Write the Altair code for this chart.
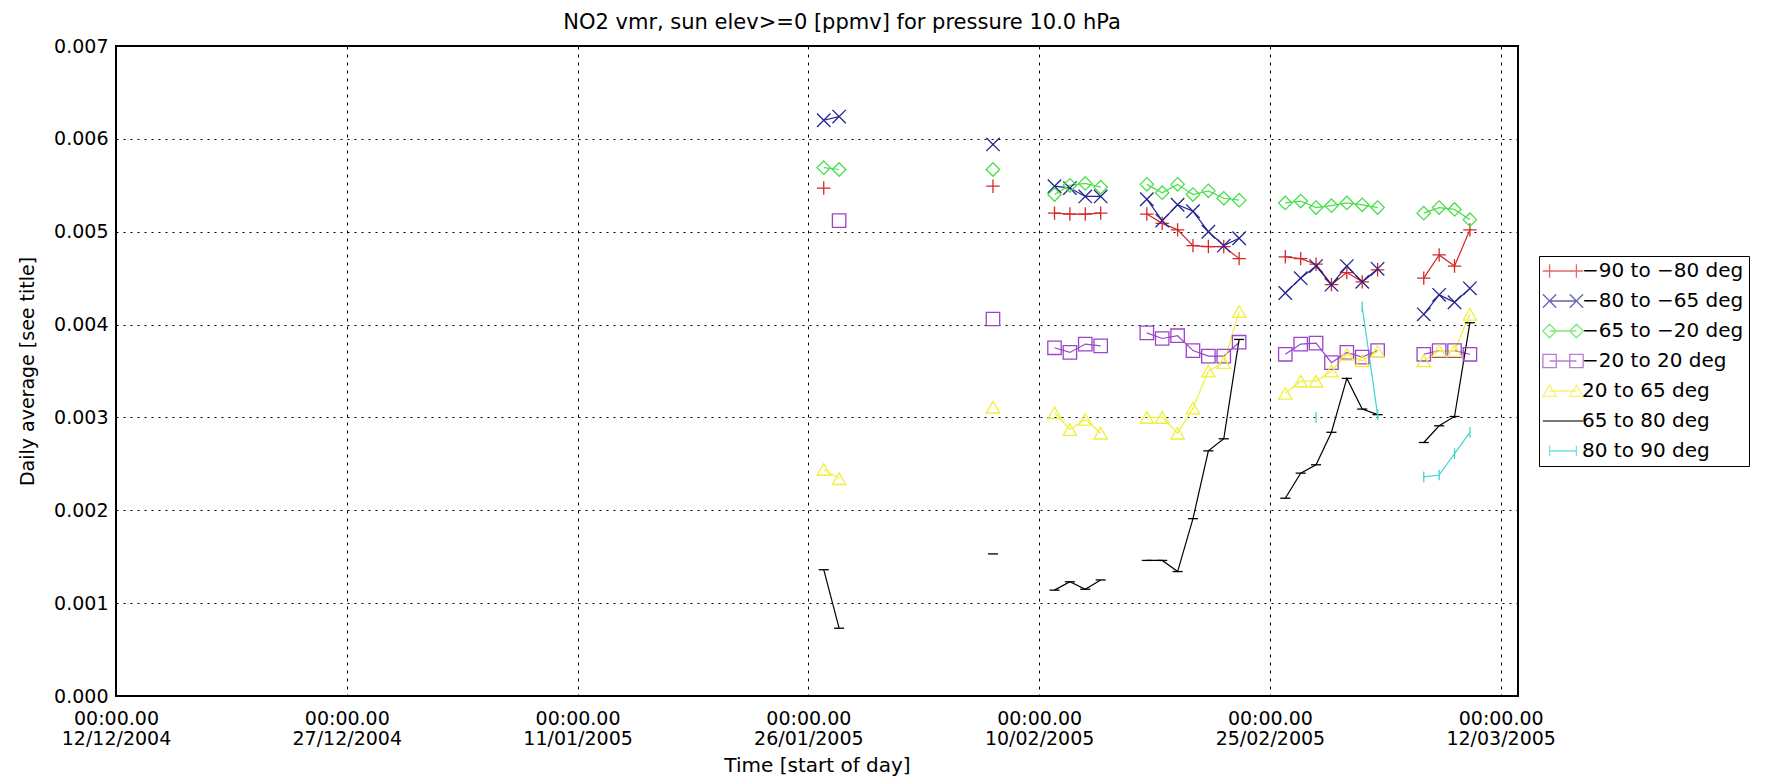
import altair as alt
import pandas as pd

# ---- data ----
dates = [
    "2005-01-27", "2005-01-28",
    "2005-02-07",
    "2005-02-11", "2005-02-12", "2005-02-13", "2005-02-14",
    "2005-02-17", "2005-02-18", "2005-02-19", "2005-02-20", "2005-02-21", "2005-02-22", "2005-02-23",
    "2005-02-26", "2005-02-27", "2005-02-28", "2005-03-01", "2005-03-02", "2005-03-03", "2005-03-04",
    "2005-03-07", "2005-03-08", "2005-03-09", "2005-03-10",
]

series = ["−90 to −80 deg", "−80 to −65 deg", "−65 to −20 deg", "−20 to 20 deg",
          "20 to 65 deg", "65 to 80 deg", "80 to 90 deg"]

s_m90_m80 = [0.00547, None, 0.00549, 0.00520, 0.00519, 0.00519, 0.00520,
             0.00519, 0.00509, 0.00502, 0.00485, 0.00484, 0.00484, 0.00471,
             0.00473, 0.00471, 0.00465, 0.00443, 0.00456, 0.00446, 0.00459,
             0.00450, 0.00475, 0.00463, 0.00502]
s_m80_m65 = [0.00620, 0.00624, 0.00594, 0.00549, 0.00547, 0.00538, 0.00538,
             0.00535, 0.00512, 0.00529, 0.00522, 0.00500, 0.00485, 0.00493,
             0.00434, 0.00450, 0.00463, 0.00443, 0.00463, 0.00446, 0.00460,
             0.00411, 0.00432, 0.00424, 0.00439]
s_m65_m20 = [0.00569, 0.00567, 0.00567, 0.00540, 0.00550, 0.00552, 0.00548,
             0.00551, 0.00542, 0.00551, 0.00540, 0.00544, 0.00536, 0.00534,
             0.00531, 0.00533, 0.00526, 0.00528, 0.00531, 0.00529, 0.00526,
             0.00520, 0.00526, 0.00524, 0.00513]
s_m20_20 = [None, 0.00512, 0.00406, 0.00375, 0.00370, 0.00379, 0.00377,
            0.00391, 0.00385, 0.00388, 0.00372, 0.00366, 0.00366, 0.00381,
            0.00368, 0.00379, 0.00380, 0.00359, 0.00370, 0.00365, 0.00372,
            0.00368, 0.00372, 0.00372, 0.00368]
s_20_65 = [0.00244, 0.00234, 0.00311, 0.00305, 0.00287, 0.00298, 0.00283,
           0.00300, 0.00300, 0.00283, 0.00310, 0.00350, 0.00359, 0.00414,
           0.00326, 0.00339, 0.00339, 0.00350, 0.00368, 0.00361, 0.00371,
           0.00361, 0.00372, 0.00372, 0.00411]
s_65_80 = [0.00136, 0.00073, 0.00153, 0.00114, 0.00123, 0.00115, 0.00125,
           0.00146, 0.00146, 0.00134, 0.00191, 0.00264, 0.00277, 0.00384,
           0.00213, 0.00240, 0.00249, 0.00284, 0.00342, 0.00309, 0.00303,
           0.00273, 0.00291, 0.00301, 0.00402]
s_80_90 = [None, None, None, None, None, None, None,
           None, None, None, None, None, None, None,
           None, None, 0.00300, None, None, 0.00419, 0.00303,
           0.00236, 0.00238, 0.00261, 0.00284]

values = [s_m90_m80, s_m80_m65, s_m65_m20, s_m20_20, s_20_65, s_65_80, s_80_90]

colors = ["#d42828", "#24248f", "#4ade4a", "#9a44c8", "#f0f03a", "#000000", "#3ed4d4"]
shapes = [
    "M-1,0L1,0M0,-1L0,1",            # plus
    "M-1,-1L1,1M-1,1L1,-1",          # X
    "diamond",
    "square",
    "triangle-up",
    "M-0.75,0L0.75,0",               # horizontal tick
    "M0,-0.8L0,0.8",                 # vertical tick
]
# legend glyphs: a short line with the series' marker at each end
legend_shapes = [
    "M-3,0L3,0M-2,-1L-2,1M2,-1L2,1",
    "M-2,0L2,0M-3,-1L-1,1M-3,1L-1,-1M1,-1L3,1M1,1L3,-1",
    "M-2,0L2,0M-3,0L-2,-1L-1,0L-2,1ZM1,0L2,-1L3,0L2,1Z",
    "M-2,0L2,0M-3,-1L-1,-1L-1,1L-3,1ZM1,-1L3,-1L3,1L1,1Z",
    "M-2,0L2,0M-3,0.8L-2,-0.9L-1,0.8ZM1,0.8L2,-0.9L3,0.8Z",
    "M-3,0L3,0",
    "M-2,0L2,0M-2,-0.8L-2,0.8M2,-0.8L2,0.8",
]

ticks_x = [(2004, 12, 12), (2004, 12, 27), (2005, 1, 11), (2005, 1, 26),
           (2005, 2, 10), (2005, 2, 25), (2005, 3, 12)]
ticks_y = [0.000, 0.001, 0.002, 0.003, 0.004, 0.005, 0.006, 0.007]

# ---- long table, lines broken where days are missing ----
rows = []
for name, vals in zip(series, values):
    seg = 0
    prev = None
    for d, v in zip(dates, vals):
        if v is None:
            prev = None
            continue
        day = pd.Timestamp(d)
        if prev is None or (day - prev).days > 1:
            seg += 1
        rows.append({"date": d, "value": v, "series": name, "seg": f"{name}|{seg}"})
        prev = day
df = pd.DataFrame(rows)

FONT = "DejaVu Sans"

x_enc = alt.X(
    "date:T",
    title="Time [start of day]",
    scale=alt.Scale(
        type="utc", nice=False,
        domain=[alt.DateTime(year=2004, month=12, date=12, utc=True),
                alt.DateTime(year=2005, month=3, date=13, hours=3, utc=True)],
    ),
    axis=alt.Axis(
        values=[alt.DateTime(year=a, month=b, date=c, utc=True) for a, b, c in ticks_x],
        labelExpr="['00:00.00', utcFormat(datum.value, '%d/%m/%Y')]",
        labelLineHeight=20, labelPadding=13, titlePadding=7,
        labelOverlap=False, labelFlush=False,
        titleFontSize=20,
        gridDash=[3, 5],
    ),
)
y_enc = alt.Y(
    "value:Q",
    title="Daily average [see title]",
    scale=alt.Scale(domain=[0, 0.007], nice=False),
    axis=alt.Axis(values=ticks_y, format=".3f", labelPadding=8, titlePadding=16,
                  gridDash=[2, 5]),
)

leg = alt.Legend(
    title=None, orient="none", legendX=1423, legendY=210,
    strokeColor="black", fillColor="white", padding=5, cornerRadius=0,
    labelFont=FONT, labelFontSize=20, labelColor="black", labelLimit=400,
    symbolSize=180, symbolStrokeWidth=1.3, rowPadding=10,
    symbolOffset=9, labelOffset=9,
)

base = alt.Chart(df)

lines = base.transform_calculate(line_series="datum.series").mark_line(strokeWidth=1.2).encode(
    x=x_enc, y=y_enc,
    stroke=alt.Stroke("line_series:N", scale=alt.Scale(domain=series, range=colors), legend=None),
    detail="seg:N",
)
points = base.mark_point(filled=False, size=180, strokeWidth=1.3, opacity=1).encode(
    x=x_enc, y=y_enc,
    color=alt.Color("series:N", scale=alt.Scale(domain=series, range=colors), legend=None),
    shape=alt.Shape("series:N", scale=alt.Scale(domain=series, range=shapes), legend=None),
)
# legend only: no marks drawn (all rows filtered out), scales come from the explicit domains
legend_layer = base.transform_filter("false").mark_point(filled=False, strokeWidth=1.3).encode(
    x=x_enc, y=y_enc,
    color=alt.Color("series:N", scale=alt.Scale(domain=series, range=colors), legend=leg),
    shape=alt.Shape("series:N", scale=alt.Scale(domain=series, range=legend_shapes), legend=leg),
)

chart = (
    alt.layer(lines, points, legend_layer)
    .resolve_scale(color="independent", shape="independent", stroke="independent")
    .properties(
        width=1402, height=650,
        padding={"left": 10, "top": 4, "right": 5, "bottom": 5},
        title=alt.Title("NO2 vmr, sun elev>=0 [ppmv] for pressure 10.0 hPa",
                        font=FONT, fontSize=21, fontWeight="normal", color="black",
                        anchor="middle", offset=4, dx=25),
    )
    .configure_view(stroke="black", strokeWidth=2)
    .configure_axis(
        grid=True, gridColor="black", gridWidth=1, gridOpacity=1,
        ticks=False, domain=False,
        labelFont=FONT, labelFontSize=19, labelColor="black",
        titleFont=FONT, titleFontSize=19, titleFontWeight="normal", titleColor="black",
    )
)

chart.save("out.html", embed_options={"renderer": "svg", "actions": False})
